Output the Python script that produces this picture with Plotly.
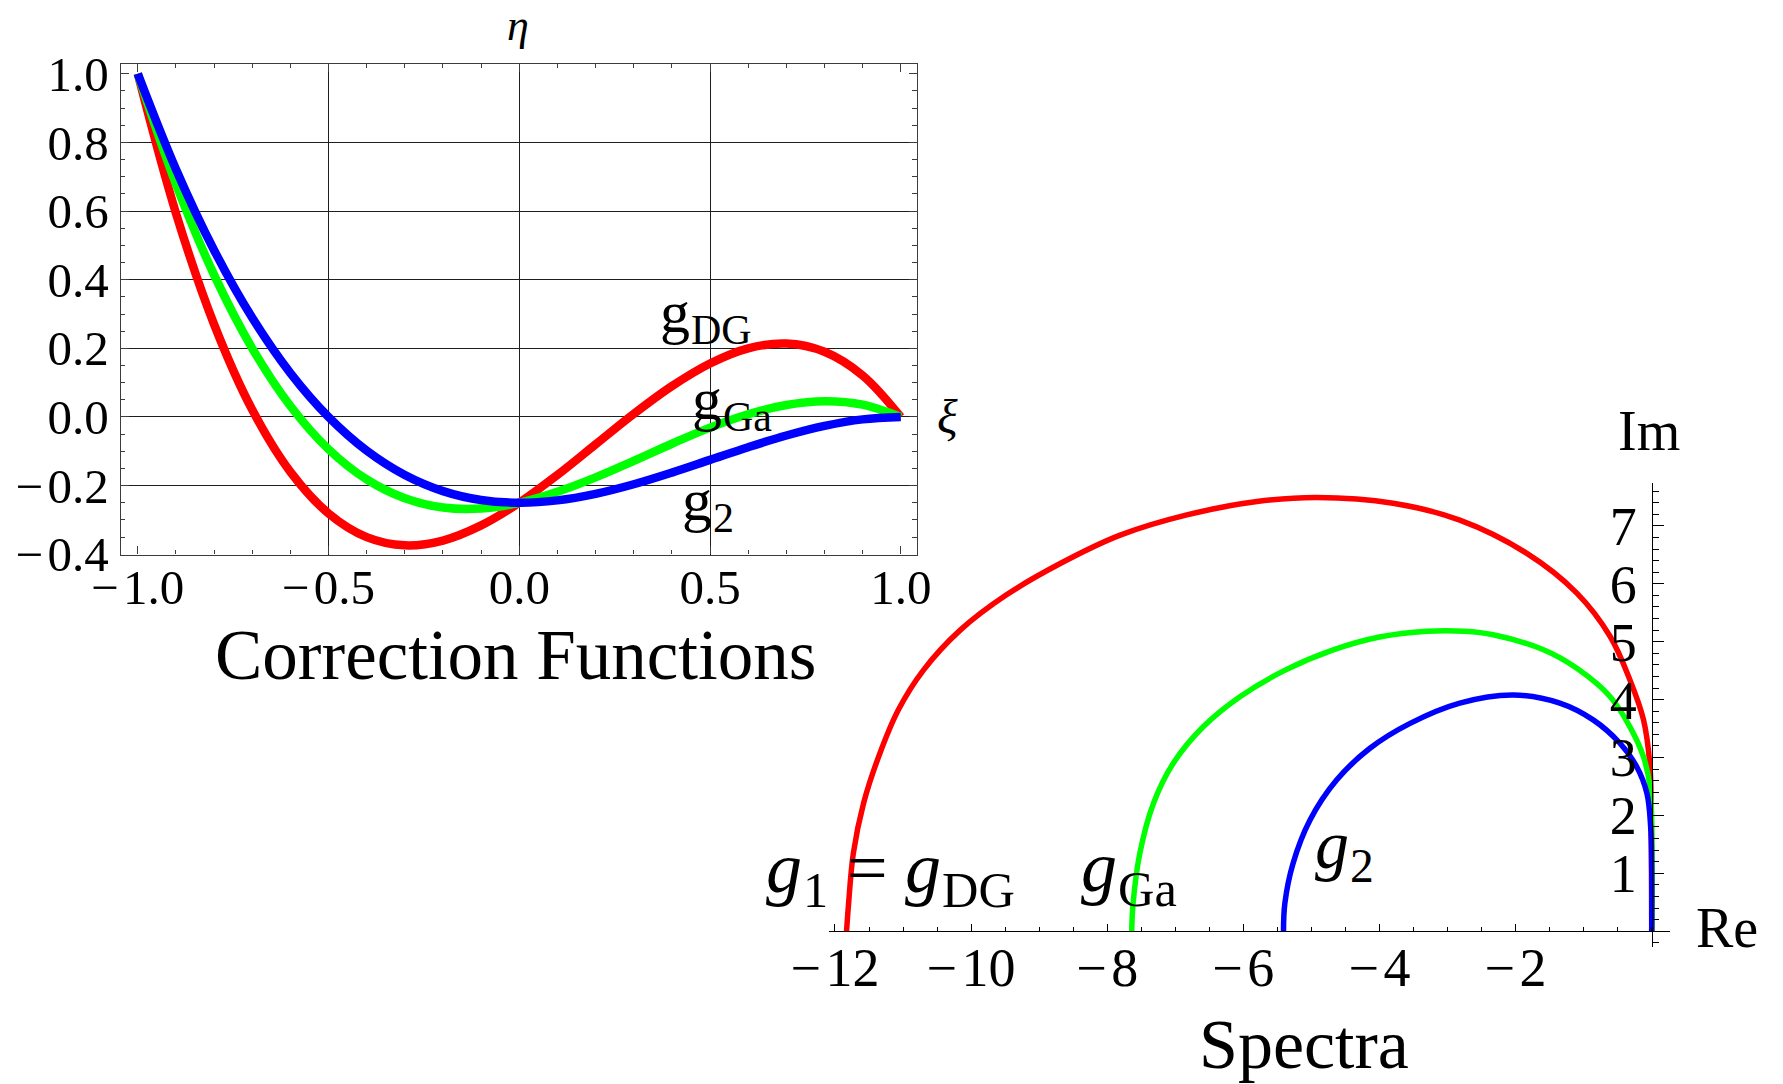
import plotly.graph_objects as go

W, H = 1783, 1084
SERIF = "Liberation Serif, Times New Roman, serif"
FRAME = "#3c3c3c"
GRID = "#1e1e1e"
RED, GREEN, BLUE = "#ff0000", "#00ff00", "#0000ff"

# ---- correction functions g(xi) on [-1, 1] ----
xi = [-1.0, -0.9, -0.8, -0.7, -0.6, -0.5, -0.4, -0.3, -0.2, -0.1, 0.0,
      0.1, 0.2, 0.3, 0.4, 0.5, 0.6, 0.7, 0.8, 0.9, 1.0]
g_dg = [1.0, 0.594, 0.270, 0.021, -0.160, -0.281, -0.350, -0.374, -0.360, -0.316, -0.250,
        -0.169, -0.080, 0.009, 0.090, 0.156, 0.200, 0.214, 0.190, 0.121, 0.0]
g_ga = [1.0, 0.679, 0.414, 0.200, 0.032, -0.094, -0.182, -0.237, -0.264, -0.267, -0.250,
        -0.218, -0.176, -0.128, -0.078, -0.031, 0.008, 0.035, 0.046, 0.036, 0.0]
g_2 = [1.0, 0.722, 0.486, 0.289, 0.128, 0.0, -0.098, -0.169, -0.216, -0.242, -0.250,
       -0.243, -0.224, -0.196, -0.162, -0.125, -0.088, -0.054, -0.026, -0.007, 0.0]

left_xticks = [-1.0, -0.5, 0.0, 0.5, 1.0]
left_yticks = [-0.4, -0.2, 0.0, 0.2, 0.4, 0.6, 0.8, 1.0]
left_xgrid = [-0.5, 0.0, 0.5]
left_ygrid = [-0.2, 0.0, 0.2, 0.4, 0.6, 0.8]

# ---- spectra (upper half of the eigenvalue loci) ----
re_dg = [-11.83, -11.80, -11.73, -11.58, -11.36, -11.07, -10.70, -10.16, -9.48, -8.69,
         -7.81, -6.83, -5.80, -4.92, -3.80, -2.82, -1.84, -1.10, -0.61, -0.32,
         -0.12, -0.025, -0.005, 0.0]
im_dg = [0.0, 0.48, 1.35, 2.21, 3.01, 3.82, 4.51, 5.20, 5.81, 6.35,
         6.84, 7.19, 7.42, 7.49, 7.39, 7.10, 6.53, 5.84, 5.09, 4.34,
         3.65, 2.84, 1.50, 0.0]
re_ga = [-7.64, -7.62, -7.52, -7.32, -7.03, -6.59, -6.05, -5.40, -4.70, -4.00,
         -3.30, -2.75, -2.33, -1.59, -1.10, -0.61, -0.32, -0.12, -0.025, 0.0, 0.0]
im_ga = [0.0, 0.48, 1.35, 2.21, 2.90, 3.53, 4.05, 4.50, 4.85, 5.08,
         5.18, 5.18, 5.12, 4.86, 4.54, 4.05, 3.53, 3.01, 2.50, 1.92, 0.0]
re_g2 = [-5.41, -5.39, -5.27, -5.02, -4.63, -4.14, -3.55, -2.82, -2.03, -1.35,
         -0.86, -0.47, -0.22, -0.07, -0.015, 0.0, 0.0]
im_g2 = [0.0, 0.48, 1.17, 1.92, 2.61, 3.16, 3.59, 3.94, 4.08, 3.94,
         3.65, 3.25, 2.84, 2.38, 1.80, 1.06, 0.0]

re_ticks = [-12, -10, -8, -6, -4, -2]
im_ticks = [1, 2, 3, 4, 5, 6, 7]


def fx(p):
    return p / W


def fy(p):
    return 1 - p / H


def num_label(v, fmt):
    s = fmt.format(abs(v))
    return ("\u2212\u200a" + s) if v < 0 else s


fig = go.Figure()

# correction function curves
for ys, col in ((g_dg, RED), (g_ga, GREEN), (g_2, BLUE)):
    fig.add_trace(go.Scatter(x=xi, y=ys, mode="lines", xaxis="x", yaxis="y",
                             line=dict(color=col, width=8.5, shape="spline"),
                             hoverinfo="skip"))
# carrier for the grid-line axes
fig.add_trace(go.Scatter(x=[None], y=[None], xaxis="x3", yaxis="y3",
                         mode="lines", hoverinfo="skip"))
# spectra
for rs, ims, col in ((re_dg, im_dg, RED), (re_ga, im_ga, GREEN), (re_g2, im_g2, BLUE)):
    fig.add_trace(go.Scatter(x=rs, y=ims, mode="lines", xaxis="x2", yaxis="y2",
                             line=dict(color=col, width=5.5, shape="spline"),
                             hoverinfo="skip"))

tick_font_l = dict(family=SERIF, size=49, color="black")
tick_font_r = dict(family=SERIF, size=54, color="black")

x_range_l = [-1.0448, 1.0417]
y_range_l = [-0.401, 1.030]
x_dom_l = [fx(120.7), fx(916.7)]
y_dom_l = [fy(554.6), fy(63.5)]

re0_px, im0_px = 1651.7, 931.2
re_scale, im_scale = 68.06, 57.9
re_range = [-12.09, 0.27]
im_range = [-0.27, 7.74]

fig.update_layout(
    template="none",
    width=W, height=H,
    margin=dict(l=0, r=0, t=0, b=0, pad=0, autoexpand=False),
    paper_bgcolor="white", plot_bgcolor="rgba(0,0,0,0)",
    showlegend=False,
    xaxis=dict(
        domain=x_dom_l, range=x_range_l, anchor="y", automargin=False,
        showline=True, mirror="ticks", linecolor=FRAME, linewidth=1.3,
        ticks="inside", ticklen=8, tickwidth=1.1, tickcolor=FRAME,
        tickvals=left_xticks, ticktext=[num_label(v, "{:.1f}") for v in left_xticks],
        minor=dict(dtick=0.1, tick0=0, ticks="inside", ticklen=4.5,
                   tickwidth=1.1, tickcolor=FRAME, showgrid=False),
        showgrid=False, zeroline=False, tickfont=tick_font_l,
        ticklabelstandoff=-11,
    ),
    yaxis=dict(
        domain=y_dom_l, range=y_range_l, anchor="x", automargin=False,
        showline=True, mirror="ticks", linecolor=FRAME, linewidth=1.3,
        ticks="inside", ticklen=8, tickwidth=1.1, tickcolor=FRAME,
        tickvals=left_yticks, ticktext=[num_label(v, "{:.1f}") for v in left_yticks],
        minor=dict(dtick=0.05, tick0=0, ticks="inside", ticklen=4.5,
                   tickwidth=1.1, tickcolor=FRAME, showgrid=False),
        showgrid=False, zeroline=False, tickfont=tick_font_l,
        ticklabelstandoff=1,
    ),
    xaxis3=dict(
        overlaying="x", anchor="y3", range=x_range_l, automargin=False,
        tickvals=left_xgrid, showgrid=True, gridcolor=GRID, gridwidth=1,
        showticklabels=False, ticks="", showline=False, zeroline=False,
    ),
    yaxis3=dict(
        overlaying="y", anchor="x3", range=y_range_l, automargin=False,
        tickvals=left_ygrid, showgrid=True, gridcolor=GRID, gridwidth=1,
        showticklabels=False, ticks="", showline=False, zeroline=False,
    ),
    xaxis2=dict(
        domain=[fx(re0_px + re_range[0] * re_scale), fx(re0_px + re_range[1] * re_scale)],
        range=re_range, anchor="free", position=fy(im0_px), side="bottom",
        automargin=False,
        showline=True, linecolor="black", linewidth=1.4,
        ticks="inside", ticklen=7, tickwidth=1.1, tickcolor="black",
        tickvals=re_ticks, ticktext=[num_label(v, "{:d}") for v in re_ticks],
        minor=dict(dtick=0.5, tick0=0, ticks="inside", ticklen=4,
                   tickwidth=1.1, tickcolor="black", showgrid=False),
        showgrid=False, zeroline=False, tickfont=tick_font_r,
        ticklabelstandoff=-11,
    ),
    yaxis2=dict(
        domain=[fy(im0_px - im_range[0] * im_scale), fy(im0_px - im_range[1] * im_scale)],
        range=im_range, anchor="free", position=fx(re0_px), side="left",
        automargin=False,
        showline=True, linecolor="black", linewidth=1.4,
        ticks="inside", ticklen=11, tickwidth=1.1, tickcolor="black",
        tickvals=im_ticks, ticktext=[str(v) for v in im_ticks],
        minor=dict(dtick=0.2, tick0=0, ticks="inside", ticklen=6,
                   tickwidth=1.1, tickcolor="black", showgrid=False),
        showgrid=False, zeroline=False, tickfont=tick_font_r,
        ticklabelstandoff=4,
    ),
)


def label(text, x, baseline, size, anchor="left", italic=False):
    """Single-line text placed by its baseline (pixels from the top)."""
    if italic:
        text = "<i>" + text + "</i>"
    return dict(text=text, xref="paper", yref="paper",
                x=fx(x), y=fy(baseline - 0.3375 * size),
                xanchor=anchor, yanchor="middle", showarrow=False,
                borderpad=0,
                font=dict(family=SERIF, size=size, color="black"))


def subscripted(parts, x, baseline, size, italic_g=False):
    """Row of (text, is_subscript) pieces laid out left to right.

    Advances follow the Times metrics of the serif face; subscripts are set
    at 70 % size and dropped by 0.21 em of the main size.
    """
    adv = {"g": 0.5, "1": 0.5, "2": 0.5, "D": 0.722, "G": 0.722, "a": 0.444,
           "=": 0.564, " ": 0.25}
    out = []
    cx = x
    for text, is_sub in parts:
        if is_sub:
            s = 0.7 * size
            out.append(label(text, cx, baseline + 0.21 * size, s))
        else:
            s = size
            out.append(label(text, cx, baseline, s,
                             italic=(italic_g and text == "g")))
        cx += sum(adv[c] for c in text) * s + 0.6
    return out


annotations = [
    label("\u03b7", 518, 40, 44, anchor="center", italic=True),
    label("\u03be", 936, 433, 48, italic=True),
    label("Correction Functions", 515.5, 679, 71, anchor="center"),
    label("Spectra", 1304, 1068, 70, anchor="center"),
    label("Im", 1649, 450, 56, anchor="center"),
    label("Re", 1695, 947, 56),
]
# curve names, left panel
annotations += subscripted([("g", False), ("DG", True)], 659, 332, 60)
annotations += subscripted([("g", False), ("Ga", True)], 691, 419, 60)
annotations += subscripted([("g", False), ("2", True)], 681, 520, 60)
# curve names, right panel
annotations += subscripted([("g", False), ("1", True)], 765, 892, 72, italic_g=True)
annotations += subscripted([("=", False)], 846, 892, 72)
annotations += subscripted([("g", False), ("DG", True)], 904, 892, 72, italic_g=True)
annotations += subscripted([("g", False), ("Ga", True)], 1080, 891, 72, italic_g=True)
annotations += subscripted([("g", False), ("2", True)], 1314, 868, 68, italic_g=True)
fig.update_layout(annotations=annotations)

fig.write_html("out.html")
